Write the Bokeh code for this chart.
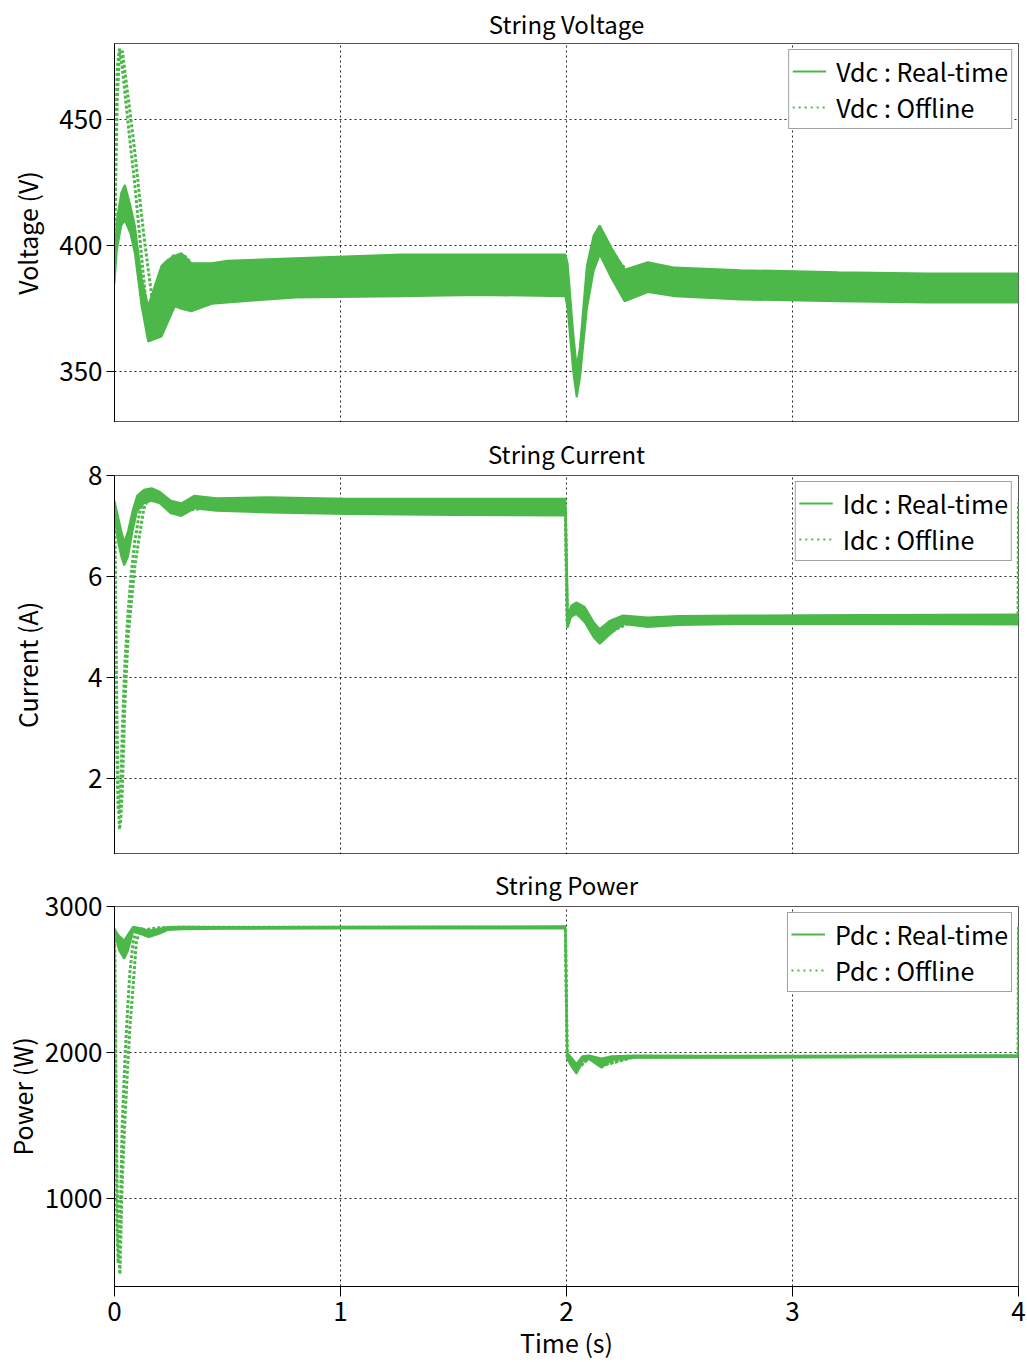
from bokeh.plotting import figure
from bokeh.layouts import column
from bokeh.models import FixedTicker, Legend, LegendItem
from bokeh.embed import file_html
from bokeh.resources import INLINE

# ---------------- data ----------------
# String voltage (V): real-time band (upper / lower envelope of the ripple)
T_V_RT = [0, 0.01, 0.03, 0.046, 0.07, 0.09, 0.12, 0.149, 0.178, 0.208,
          0.2375, 0.267, 0.296, 0.34, 0.43, 0.5, 0.8, 1.27, 1.6, 1.995,
          2.005, 2.03, 2.045, 2.06, 2.09, 2.12, 2.147, 2.2, 2.257, 2.36,
          2.48, 2.77, 3.2, 3.6, 4.0]
V_RT_HI = [392, 410, 421, 424, 416, 408, 387, 376, 384, 392,
           394.5, 396, 397, 393, 393, 394, 395, 396.5, 396.5, 396.5,
           393, 365, 352, 360, 392, 404, 408, 399, 390.5, 393.4,
           391.3, 390.3, 389.5, 389, 389]
V_RT_LO = [385, 398, 408, 410, 405, 397, 376, 362, 363, 364,
           370, 376, 375, 374, 377, 377.5, 379.5, 380, 380.5, 380,
           375, 350, 340, 348, 375, 390, 396.5, 387, 378, 381.6,
           380, 378.7, 378, 377.5, 377.5]
# offline: two dotted traces
T_V_OFF = [0, 0.005, 0.012, 0.022, 0.035, 0.05, 0.07, 0.09, 0.11, 0.13,
           0.15, 0.168, 0.185, 0.205, 0.23, 0.26, 0.29, 0.31, 0.34, 0.4,
           0.6, 1.0, 1.5, 1.995, 2.045, 2.09, 2.147, 2.3, 3.0, 4.0]
V_OFF_A = [388, 440, 470, 478, 470, 457, 440, 424, 405, 386,
           369, 364, 368, 380, 391, 396, 396, 393, 389, 386,
           387, 388, 388, 388, 346, 383, 402, 387, 384, 383]
V_OFF_B = [392, 425, 458, 476, 477, 466, 452, 437, 420, 404,
           390, 378, 367, 365, 376, 388, 393, 396, 393, 388,
           386, 387, 388, 388, 345, 382, 401, 386, 384, 383]

# String current (A)
T_I_RT = [0, 0.015, 0.03, 0.043, 0.06, 0.08, 0.1, 0.13, 0.164, 0.2,
          0.25, 0.296, 0.354, 0.45, 0.68, 1.03, 1.5, 1.995, 2.003, 2.006,
          2.02, 2.044, 2.08, 2.12, 2.147, 2.19, 2.25, 2.36, 2.5, 2.77,
          3.3, 4.0]
I_RT_HI = [7.5, 7.2, 6.9, 6.68, 6.9, 7.3, 7.6, 7.72, 7.75, 7.68,
           7.5, 7.45, 7.6, 7.55, 7.57, 7.54, 7.54, 7.54, 6.0, 5.2,
           5.42, 5.49, 5.4, 5.1, 4.96, 5.12, 5.23, 5.19, 5.22, 5.23,
           5.24, 5.25]
I_RT_LO = [7.2, 6.7, 6.4, 6.22, 6.4, 6.9, 7.3, 7.45, 7.5, 7.45,
           7.25, 7.2, 7.35, 7.3, 7.27, 7.24, 7.22, 7.21, 5.0, 5.0,
           5.2, 5.26, 5.1, 4.8, 4.67, 4.85, 5.06, 5.0, 5.04, 5.06,
           5.06, 5.05]
T_I_OFF = [0, 0.004, 0.01, 0.016, 0.022, 0.028, 0.035, 0.046, 0.06, 0.075,
           0.09, 0.11, 0.13, 0.15, 0.175, 0.2, 0.25, 0.3, 0.4, 1.0,
           1.995, 2.003, 2.044, 2.147, 2.3, 3.0, 3.999, 4.0]
I_OFF_A = [7.4, 5.0, 2.6, 1.4, 1.3, 1.9, 3.0, 4.3, 5.3, 6.1,
           6.7, 7.25, 7.55, 7.65, 7.6, 7.5, 7.4, 7.35, 7.4, 7.38,
           7.38, 5.1, 5.38, 4.82, 5.15, 5.15, 5.15, 7.45]
I_OFF_B = [7.3, 6.0, 3.5, 1.8, 1.0, 1.2, 1.8, 3.5, 4.8, 5.5,
           6.2, 6.8, 7.35, 7.55, 7.7, 7.6, 7.42, 7.3, 7.35, 7.36,
           7.36, 5.1, 5.36, 4.8, 5.13, 5.13, 5.13, 7.45]

# String power (W)
T_P_RT = [0, 0.02, 0.043, 0.06, 0.083, 0.12, 0.15, 0.2, 0.237, 0.3,
          0.5, 1.0, 1.5, 1.995, 2.003, 2.02, 2.044, 2.07, 2.1, 2.155,
          2.2, 2.3, 2.6, 3.0, 3.5, 4.0]
P_RT_HI = [2845, 2800, 2767, 2810, 2862, 2850, 2835, 2848, 2860, 2862,
           2860, 2862, 2863, 2865, 2000, 1970, 1924, 1975, 1980, 1960,
           1975, 1980, 1978, 1978, 1980, 1982]
P_RT_LO = [2820, 2700, 2642, 2700, 2830, 2810, 2790, 2815, 2840, 2845,
           2848, 2850, 2850, 2850, 1960, 1910, 1856, 1940, 1955, 1897,
           1950, 1965, 1965, 1966, 1968, 1970]
T_P_OFF = [0, 0.004, 0.01, 0.016, 0.024, 0.034, 0.046, 0.058, 0.068, 0.083,
           0.097, 0.12, 0.15, 0.2, 0.3, 1.0, 1.995, 2.003, 2.044, 2.1,
           2.155, 2.3, 3.0, 3.999, 4.0]
P_OFF_A = [2850, 1700, 850, 560, 750, 1500, 1950, 2300, 2550, 2760,
           2840, 2835, 2845, 2855, 2858, 2858, 2858, 1975, 1885, 1968,
           1915, 1972, 1973, 1975, 2860]
P_OFF_B = [2840, 2300, 1300, 700, 484, 1100, 1534, 1900, 2173, 2470,
           2767, 2850, 2815, 2850, 2855, 2856, 2856, 1975, 1880, 1965,
           1910, 1970, 1972, 1975, 2860]

X_TICKS = [0, 1, 2, 3, 4]
TITLES = ["String Voltage", "String Current", "String Power"]
Y_LABELS = ["Voltage (V)", "Current (A)", "Power (W)"]
Y_TICKS = [[350, 400, 450], [2, 4, 6, 8], [1000, 2000, 3000]]
Y_RANGES = [(330, 480), (0.5, 8), (400, 3000)]
NAMES = ["Vdc", "Idc", "Pdc"]

GREEN = "#4cb84a"
FONT = "Noto Sans CJK JP"


def panel(i, t_rt, hi, lo, t_off, off_a, off_b, height, top, bottom, last, standoff, tstand):
    p = figure(width=1027, height=height, x_range=(0, 4), y_range=Y_RANGES[i],
               output_backend="svg", toolbar_location=None,
               min_border_left=113, min_border_right=9,
               min_border_top=top, min_border_bottom=bottom)
    p.background_fill_color = "white"
    p.border_fill_color = "white"
    p.outline_line_color = "#555555"
    p.outline_line_width = 1

    p.title.text = TITLES[i]
    p.title.align = "center"
    p.title.text_font = FONT
    p.title.text_font_size = "24px"
    p.title.text_font_style = "normal"
    p.title.text_color = "black"
    p.title.standoff = tstand

    # real-time band
    p.varea(x=t_rt, y1=lo, y2=hi, fill_color=GREEN)
    r_rt = p.line(t_rt, hi, line_color=GREEN, line_width=2)
    p.line(t_rt, lo, line_color=GREEN, line_width=2)
    # offline traces
    p.line(t_off, off_a, line_color=GREEN, line_width=3, line_dash="3 2")
    p.line(t_off, off_b, line_color=GREEN, line_width=3, line_dash="3 2")
    # thin dotted renderer used for the legend sample (single point: draws nothing)
    r_off = p.line(t_off[-1:], off_a[-1:], line_color=GREEN, line_width=2, line_dash="2 4")

    leg = Legend(items=[LegendItem(label=NAMES[i] + " : Real-time", renderers=[r_rt]),
                        LegendItem(label=NAMES[i] + " : Offline", renderers=[r_off])],
                 location="top_right")
    leg.label_text_font = FONT
    leg.label_text_font_size = "25px"
    leg.label_text_color = "black"
    leg.border_line_color = "#444444"
    leg.border_line_width = 1
    leg.background_fill_alpha = 1
    leg.margin = 6
    leg.padding = 3
    leg.spacing = 0
    leg.glyph_width = 34
    leg.label_standoff = 10
    leg.label_height = 26
    p.add_layout(leg)

    # grids
    p.xgrid.ticker = FixedTicker(ticks=X_TICKS)
    p.ygrid.ticker = FixedTicker(ticks=Y_TICKS[i])
    for g in (p.xgrid, p.ygrid):
        g.grid_line_color = "black"
        g.grid_line_dash = "2 3"
        g.grid_line_width = 1
        g.grid_line_alpha = 0.85

    # y axis
    ya = p.yaxis[0]
    ya.ticker = FixedTicker(ticks=Y_TICKS[i])
    ya.axis_label = Y_LABELS[i]
    ya.axis_label_text_font = FONT
    ya.axis_label_text_font_size = "25px"
    ya.axis_label_text_font_style = "normal"
    ya.axis_label_text_color = "black"
    ya.axis_label_standoff = standoff
    ya.major_label_text_font = FONT
    ya.major_label_text_font_size = "26px"
    ya.major_label_text_color = "black"
    ya.major_label_standoff = 4
    ya.major_tick_out = 8
    ya.major_tick_in = 0
    ya.minor_tick_out = 0
    ya.minor_tick_in = 0
    ya.axis_line_color = "black"
    ya.major_tick_line_color = "black"

    xa = p.xaxis[0]
    if last:
        xa.ticker = FixedTicker(ticks=X_TICKS)
        xa.axis_label = "Time (s)"
        xa.axis_label_text_font = FONT
        xa.axis_label_text_font_size = "25px"
        xa.axis_label_text_font_style = "normal"
        xa.axis_label_text_color = "black"
        xa.axis_label_standoff = 0
        xa.major_label_text_font = FONT
        xa.major_label_text_font_size = "26px"
        xa.major_label_text_color = "black"
        xa.major_label_standoff = 5
        xa.major_tick_out = 10
        xa.major_tick_in = 0
        xa.minor_tick_out = 0
        xa.minor_tick_in = 0
        xa.axis_line_color = "black"
        xa.major_tick_line_color = "black"
    else:
        xa.visible = False
    return p


p1 = panel(0, T_V_RT, V_RT_HI, V_RT_LO, T_V_OFF, V_OFF_A, V_OFF_B,
           height=422, top=43, bottom=0, last=False, standoff=11, tstand=6)
p2 = panel(1, T_I_RT, I_RT_HI, I_RT_LO, T_I_OFF, I_OFF_A, I_OFF_B,
           height=432, top=53, bottom=0, last=False, standoff=40, tstand=10)
p3 = panel(2, T_P_RT, P_RT_HI, P_RT_LO, T_P_OFF, P_OFF_A, P_OFF_B,
           height=508, top=52, bottom=76, last=True, standoff=2, tstand=10)

layout = column(p1, p2, p3, spacing=0)
open("out.html", "w").write(file_html(layout, INLINE))
